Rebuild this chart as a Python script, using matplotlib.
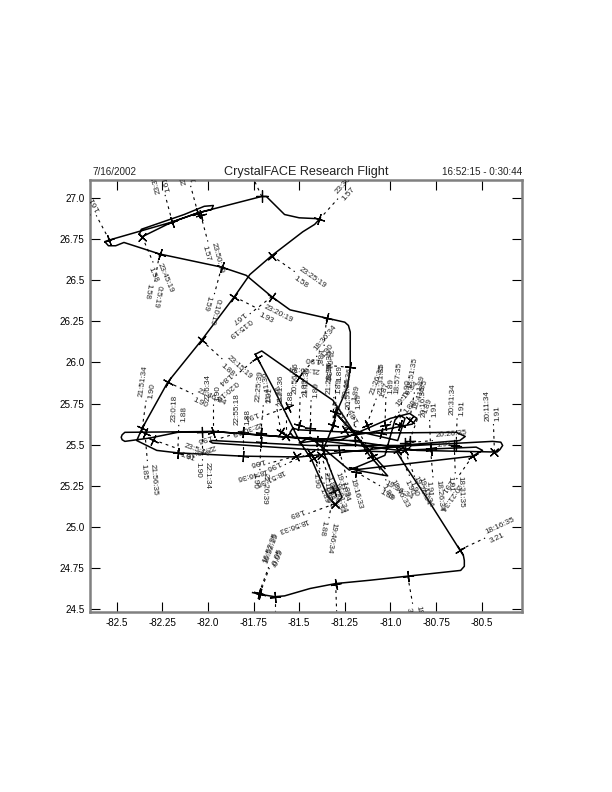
import numpy as np
import matplotlib
matplotlib.use('Agg')
import matplotlib.pyplot as plt

plt.rcParams['font.family'] = ['Liberation Sans', 'DejaVu Sans']

# flight track, in flying order
track_lon = [-81.755, -81.716, -81.634, -81.58, -81.44, -81.30, -81.114, -80.905, -80.65, -80.615, -80.595, -80.595,
             -80.60, -80.62, -80.80, -80.92, -80.965, -81.44, -81.975, -81.99, -81.975, -81.44, -80.95, -80.62,
             -80.59, -80.64, -81.13, -81.50, -81.535, -81.55, -81.53, -81.225, -80.855, -80.415, -80.40, -80.385,
             -80.395, -80.44, -80.95, -81.50, -81.81, -82.165, -82.28, -82.39, -82.36, -82.22, -82.035, -81.855,
             -81.77, -81.65, -81.48, -81.415, -81.39, -81.405, -81.50, -81.58, -81.635, -81.68, -81.705, -82.055,
             -81.98, -81.97, -82.02, -82.13, -82.365, -82.375, -82.36, -82.195, -82.055, -82.195, -82.54, -82.565,
             -82.545, -82.505, -82.46, -82.265, -81.925, -81.79, -81.65, -81.55, -81.35, -81.25, -81.23, -81.22,
             -81.22, -81.235, -81.29, -81.32, -81.37, -81.305, -81.265, -81.305, -81.345, -81.43, -81.50, -81.635,
             -81.73, -81.74, -81.705, -81.50, -81.315, -81.115, -81.015, -81.19, -81.225, -81.17, -80.55, -80.495,
             -80.53, -80.95, -81.50, -81.965, -82.455, -82.47, -82.475, -82.47, -82.455, -82.32, -82.165, -81.97,
             -81.55, -81.28, -81.0, -80.895, -80.855, -80.88, -81.13, -81.50, -81.44, -81.225, -81.03, -80.975,
             -80.95, -80.92, -80.96, -81.215, -81.29, -81.03]
track_lat = [24.60, 24.59, 24.575, 24.58, 24.625, 24.655, 24.675, 24.70, 24.73, 24.735, 24.76, 24.795,
             24.825, 24.86, 25.175, 25.375, 25.455, 25.47, 25.51, 25.52, 25.525, 25.495, 25.495, 25.525,
             25.55, 25.575, 25.57, 25.59, 25.60, 25.575, 25.545, 25.525, 25.465, 25.455, 25.47, 25.495,
             25.515, 25.52, 25.49, 25.425, 25.43, 25.45, 25.465, 25.525, 25.60, 25.88, 26.135, 26.40,
             26.535, 26.65, 26.795, 26.84, 26.87, 26.875, 26.88, 26.90, 26.96, 27.01, 27.01, 26.91,
             26.93, 26.955, 26.95, 26.90, 26.81, 26.78, 26.765, 26.855, 26.91, 26.855, 26.745, 26.735,
             26.71, 26.71, 26.73, 26.66, 26.58, 26.53, 26.40, 26.32, 26.27, 26.245, 26.225, 26.185,
             25.97, 25.85, 25.71, 25.60, 25.465, 25.28, 25.18, 25.135, 25.19, 25.405, 25.525, 25.83,
             26.03, 26.05, 26.07, 25.91, 25.77, 25.435, 25.31, 25.345, 25.36, 25.35, 25.43, 25.465,
             25.485, 25.465, 25.54, 25.58, 25.575, 25.56, 25.545, 25.53, 25.52, 25.54, 25.575, 25.58,
             25.545, 25.525, 25.66, 25.69, 25.66, 25.625, 25.57, 25.51, 25.545, 25.345, 25.435, 25.65,
             25.68, 25.66, 25.525, 25.59, 25.68, 25.355]

# labelled fixes along the track
fix_lon = [-81.716, -81.72, -81.634, -81.30, -80.905, -80.62, -82.54, -82.195, -82.055, -82.04, -81.705, -81.39,
           -81.65, -82.36, -82.265, -81.925, -81.855, -81.65, -82.035, -81.73, -82.22, -82.36, -82.345, -82.165,
           -82.30, -81.97, -82.03, -81.81, -81.71, -81.71, -81.81, -81.60, -81.56, -81.44, -81.22, -81.35,
           -81.50, -81.305, -81.195, -81.03, -81.13, -80.95, -80.895, -81.05, -80.78, -80.78, -80.64, -80.43,
           -80.65, -80.55, -80.92, -81.19, -81.305, -80.92, -81.31, -81.42, -81.38, -81.40, -81.50, -81.44,
           -81.57, -81.10, -81.52, -81.315, -81.375, -81.28, -81.115, -80.96, -80.895, -81.25]
fix_lat = [24.59, 24.595, 24.575, 24.655, 24.70, 24.86, 26.745, 26.855, 26.91, 26.90, 27.01, 26.87,
           26.65, 26.765, 26.66, 26.58, 26.40, 26.40, 26.135, 26.03, 25.88, 25.60, 25.57, 25.45,
           25.53, 25.58, 25.58, 25.43, 25.57, 25.515, 25.58, 25.58, 25.73, 25.45, 25.97, 26.27,
           25.91, 25.70, 25.53, 25.62, 25.62, 25.62, 25.65, 25.57, 25.48, 25.47, 25.49, 25.455,
           25.495, 25.43, 25.51, 25.335, 25.14, 25.465, 25.22, 25.42, 25.44, 25.52, 25.62, 25.60,
           25.55, 25.43, 25.43, 25.62, 25.495, 25.465, 25.465, 25.465, 25.525, 25.59]
fix_time = ['16:52:15', '16:52:35', '16:57:15', '17:51:35', '18:11:35', '18:16:35', '23:40:19', '23:35:19', '23:30:19',
            '23:50:19', '23:55:19', '23:30:19', '23:25:19', '23:45:19', '0:5:19', '0:10:19', '23:20:19', '0:15:19',
            '23:15:19', '0:20:19', '21:46:34', '21:51:34', '21:56:35', '23:0:18', '23:5:18', '22:6:34', '22:1:34',
            '22:55:18', '22:25:39', '22:20:39', '22:50:18', '21:41:36', '22:30:19', '18:51:36', '21:06:34', '21:01:34',
            '18:36:34', '21:36:35', '20:51:36', '21:31:35', '21:26:35', '18:57:35', '18:51:35', '19:16:34', '20:16:36',
            '18:26:34', '20:31:34', '20:11:34', '18:31:35', '20:21:34', '20:26:35', '19:36:34', '18:56:33', '19:41:34',
            '19:46:34', '19:06:34', '19:01:34', '21:16:36', '20:56:36', '21:11:36', '21:21:36', '18:46:33', '18:46:36',
            '21:21:35', '19:11:34', '19:16:33', '19:31:34', '19:26:34', '18:41:35', '20:46:36']
fix_value = ['-0.05', '-0.05', '0.56', '3.19', '3.18', '3.21', '1.61', '1.61', '1.61', '1.57', '1.57', '1.57', '1.58',
             '1.58', '1.58', '1.59', '1.93', '1.67', '1.88', '1.84', '1.90', '1.90', '1.85', '1.88', '1.91', '1.90',
             '1.90', '1.88', '1.91', '1.90', '1.96', '1.86', '1.91', '1.96', '1.90', '1.88', '1.90', '1.89', '1.89',
             '1.89', '1.87', '1.90', '1.89', '1.89', '1.91', '1.91', '1.91', '1.91', '1.91', '1.91', '1.91', '1.89',
             '1.89', '1.90', '1.88', '1.89', '1.89', '1.90', '1.89', '1.89', '1.88', '1.89', '1.96',
             '1.89', '1.89', '1.89', '1.89', '1.90', '1.89', '1.89']
# direction the leader leaves each fix, degrees
fix_dir = [70, 70, -90, -88, -80, 25, 118, 105, 105, -75, 115, 48, -35, -67, -100, -105, -27, -142, -42, -140, -25,
           82, -85, 88, -20, 90, -90, 90, 85, -92, 197, 100, 200, -155, 175, -95, 50, 90, 92, 88, 70, 85, 80, 50,
           92, -85, 88, 92, -88, -125, 5, -30, 200, -70, -100, -68, -72, -85, 88, 88, 90, -60, 195,
           88, -70, -75, 120, -65, 70, 80]

x_ticks = [-82.5, -82.25, -82.0, -81.75, -81.5, -81.25, -81.0, -80.75, -80.5]
x_labels = ['-82.5', '-82.25', '-82.0', '-81.75', '-81.5', '-81.25', '-81.0', '-80.75', '-80.5']
y_ticks = [24.5, 24.75, 25.0, 25.25, 25.5, 25.75, 26.0, 26.25, 26.5, 26.75, 27.0]
y_labels = ['24.5', '24.75', '25.0', '25.25', '25.5', '25.75', '26.0', '26.25', '26.5', '26.75', '27.0']

LEADER = 28 * 0.72   # px to points
GAP = 5 * 0.72
TEXT_COLOR = '#222222'

fig = plt.figure(figsize=(6.12, 7.92), dpi=100)
ax = fig.add_axes([90 / 612, 180 / 792, 432 / 612, 432 / 792])
ax.set_xlim(-82.646, -80.279)
ax.set_ylim(24.482, 27.11)

ax.plot(track_lon, track_lat, color='black', lw=1.1, solid_joinstyle='round', zorder=3)

fig.canvas.draw()
track_px = ax.transData.transform(np.column_stack([track_lon, track_lat]))


def heading_at(lon, lat):
    """Heading of the track segment closest to a fix, in display degrees."""
    p = ax.transData.transform((lon, lat))
    mid = (track_px[:-1] + track_px[1:]) / 2
    i = np.argmin(np.hypot(*(mid - p).T))
    d = track_px[i + 1] - track_px[i]
    return np.degrees(np.arctan2(d[1], d[0]))


for lon, lat, tm, val, d in zip(fix_lon, fix_lat, fix_time, fix_value, fix_dir):
    ax.plot([lon], [lat], marker=(4, 2, heading_at(lon, lat)), ms=8, mew=0.9, color='black', zorder=4)
    rad = np.radians(d)
    ux, uy = np.cos(rad), np.sin(rad)
    end = ax.transData.transform((lon, lat)) + np.array([ux, uy]) * LEADER / 0.72
    end_lon, end_lat = ax.transData.inverted().transform(end)
    ax.plot([lon, end_lon], [lat, end_lat], color='black', lw=0.8, ls=(0, (2.5, 3.5)), zorder=2)
    for txt, side in ((tm, 1), (val, -1)):
        off = (ux * (LEADER + 2) - side * uy * GAP, uy * (LEADER + 2) + side * ux * GAP)
        ax.annotate(txt, xy=(lon, lat), xytext=off, textcoords='offset points', rotation=d,
                    rotation_mode='anchor', ha='left', va='center', fontsize=5.9, color=TEXT_COLOR,
                    clip_on=True, zorder=5)

ax.set_xticks(x_ticks)
ax.set_xticklabels(x_labels)
ax.set_yticks(y_ticks)
ax.set_yticklabels(y_labels)
ax.tick_params(direction='in', length=7, width=0.8, top=True, right=True, labelsize=7.1, pad=4, color='black')
for spine in ax.spines.values():
    spine.set_color('#808080')
    spine.set_linewidth(1.8)

fig.text(93 / 612, 1 - 175 / 792, '7/16/2002', fontsize=7.1, color='#222222')
fig.text(306 / 612, 1 - 175 / 792, 'CrystalFACE Research Flight', fontsize=9.1, ha='center', color='#222222')
fig.text(522 / 612, 1 - 175 / 792, '16:52:15 - 0:30:44', fontsize=7.1, ha='right', color='#222222')

fig.savefig('out.png', dpi=100)
